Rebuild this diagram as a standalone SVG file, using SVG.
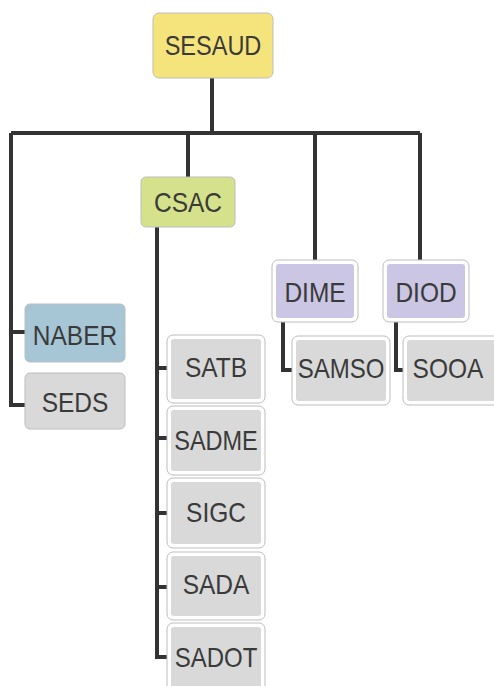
<svg xmlns="http://www.w3.org/2000/svg" width="494" height="686" viewBox="0 0 494 686">
  <style>
    .box { stroke: #bdbdbd; stroke-width: 1; }
    .yellow { fill: #f5e47c; }
    .green { fill: #d5e28b; }
    .blue { fill: #a6c6d6; }
    .purple { fill: #cac6e4; }
    .gray { fill: #d8d9d8; }
    .frame { fill: #ffffff; }
    .label { font-family: "Liberation Sans", Arial, sans-serif; font-size: 24.5px; fill: #3a3a3a; text-anchor: middle; }
    .conn { fill: none; stroke: #333333; stroke-width: 4; stroke-linejoin: miter; }
  </style>

  <rect width="494" height="686" fill="#ffffff"/>

  <!-- connectors -->
  <g id="connectors" class="conn">
    <path d="M212,78 V133"/>
    <path d="M11,133 H420"/>
    <path d="M188,133 V178"/>
    <path d="M315,133 V261"/>
    <path d="M420,133 V261"/>
    <path d="M11,133 V405 H26"/>
    <path d="M11,332 H26"/>
    <path d="M157,227 V657 H168"/>
    <path d="M157,368 H168"/>
    <path d="M157,438 H168"/>
    <path d="M157,513 H168"/>
    <path d="M157,587 H168"/>
    <path d="M283,322 V370 H293"/>
    <path d="M396,322 V370 H404"/>
  </g>

  <!-- top level; labels are stretched slightly in height around their baseline -->
  <g id="sesaud">
    <rect class="box yellow" x="153" y="13" width="120" height="65" rx="6"/>
    <text class="label" transform="translate(213,55) scale(0.96,1.1)">SESAUD</text>
  </g>

  <g id="csac">
    <rect class="box green" x="141" y="177" width="94" height="50" rx="5"/>
    <text class="label" transform="translate(188,212) scale(1,1.1)">CSAC</text>
  </g>

  <g id="naber">
    <rect class="box blue" x="25" y="304" width="100" height="58" rx="5"/>
    <text class="label" transform="translate(75,345) scale(1,1.1)">NABER</text>
  </g>

  <g id="seds">
    <rect class="box gray" x="25" y="373" width="100" height="56" rx="5"/>
    <text class="label" transform="translate(75,412) scale(1,1.1)">SEDS</text>
  </g>

  <g id="dime">
    <rect class="box frame" x="272" y="260" width="86" height="62" rx="6"/>
    <rect class="purple" x="276" y="264" width="78" height="54" rx="3"/>
    <text class="label" transform="translate(315,302) scale(1,1.1)">DIME</text>
  </g>

  <g id="diod">
    <rect class="box frame" x="383" y="260" width="86" height="62" rx="6"/>
    <rect class="purple" x="387" y="264" width="78" height="54" rx="3"/>
    <text class="label" transform="translate(426,302) scale(1,1.1)">DIOD</text>
  </g>

  <g id="samso">
    <rect class="box frame" x="292" y="336" width="98" height="69" rx="6"/>
    <rect class="gray" x="296" y="340" width="90" height="61" rx="3"/>
    <text class="label" transform="translate(341,378) scale(0.98,1.1)">SAMSO</text>
  </g>

  <g id="sooa">
    <rect class="box frame" x="403" y="336" width="98" height="69" rx="6"/>
    <rect class="gray" x="407" y="340" width="90" height="61" rx="3"/>
    <text class="label" transform="translate(448,378) scale(1,1.1)">SOOA</text>
  </g>

  <!-- CSAC column -->
  <g id="satb">
    <rect class="box frame" x="167" y="335" width="98" height="68" rx="6"/>
    <rect class="gray" x="171" y="339" width="90" height="60" rx="3"/>
    <text class="label" transform="translate(216,377) scale(1,1.1)">SATB</text>
  </g>

  <g id="sadme">
    <rect class="box frame" x="167" y="406" width="98" height="69" rx="6"/>
    <rect class="gray" x="171" y="410" width="90" height="61" rx="3"/>
    <text class="label" transform="translate(216,450) scale(0.96,1.1)">SADME</text>
  </g>

  <g id="sigc">
    <rect class="box frame" x="167" y="478" width="98" height="70" rx="6"/>
    <rect class="gray" x="171" y="482" width="90" height="62" rx="3"/>
    <text class="label" transform="translate(216,522) scale(1,1.1)">SIGC</text>
  </g>

  <g id="sada">
    <rect class="box frame" x="167" y="552" width="98" height="68" rx="6"/>
    <rect class="gray" x="171" y="556" width="90" height="60" rx="3"/>
    <text class="label" transform="translate(216,594) scale(1,1.1)">SADA</text>
  </g>

  <g id="sadot">
    <rect class="box frame" x="167" y="623" width="98" height="72" rx="6"/>
    <rect class="gray" x="171" y="627" width="90" height="64" rx="3"/>
    <text class="label" transform="translate(216,667) scale(0.98,1.1)">SADOT</text>
  </g>
</svg>
